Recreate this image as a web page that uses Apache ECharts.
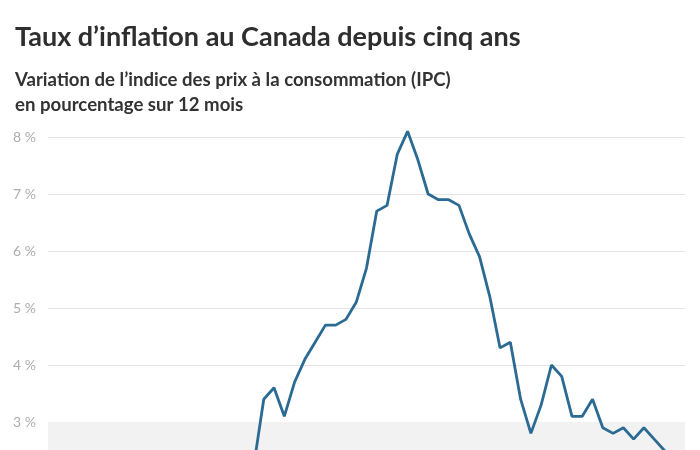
<!DOCTYPE html>
<html>
<head>
<meta charset="utf-8">
<script src="https://cdn.jsdelivr.net/npm/echarts@6/dist/echarts.min.js"></script>
<style>
html,body{margin:0;padding:0;background:#fff;overflow:hidden;width:700px;height:450px;}
#chart{width:700px;height:690px;}
</style>
</head>
<body>
<div id="chart"></div>
<script>
const months = [
  "2019-07","2019-08","2019-09","2019-10","2019-11","2019-12",
  "2020-01","2020-02","2020-03","2020-04","2020-05","2020-06","2020-07","2020-08","2020-09","2020-10","2020-11","2020-12",
  "2021-01","2021-02","2021-03","2021-04","2021-05","2021-06","2021-07","2021-08","2021-09","2021-10","2021-11","2021-12",
  "2022-01","2022-02","2022-03","2022-04","2022-05","2022-06","2022-07","2022-08","2022-09","2022-10","2022-11","2022-12",
  "2023-01","2023-02","2023-03","2023-04","2023-05","2023-06","2023-07","2023-08","2023-09","2023-10","2023-11","2023-12",
  "2024-01","2024-02","2024-03","2024-04","2024-05","2024-06","2024-07","2024-08","2024-09"
];
const inflation = [
  2.0,1.9,1.9,1.9,2.2,2.2,
  2.4,2.2,0.9,-0.2,-0.4,0.7,0.1,0.1,0.5,0.7,1.0,0.7,
  1.0,1.1,2.2,3.4,3.6,3.1,3.7,4.1,4.4,4.7,4.7,4.8,
  5.1,5.7,6.7,6.8,7.7,8.1,7.6,7.0,6.9,6.9,6.8,6.3,
  5.9,5.2,4.3,4.4,3.4,2.8,3.3,4.0,3.8,3.1,3.1,3.4,
  2.9,2.8,2.9,2.7,2.9,2.7,2.5,2.0,1.6
];
const targetBand = [1, 3];
const yMin = -1, yMax = 8, yStep = 1;
const titleText = "Taux d\u2019inflation au Canada depuis cinq ans";
const subText = "Variation de l\u2019indice des prix \u00e0 la consommation (IPC)\nen pourcentage sur 12 mois";

const chart = echarts.init(document.getElementById('chart'), null, {renderer:'canvas'});
chart.setOption({
  animation: false,
  backgroundColor: '#ffffff',
  title: {
    text: titleText,
    subtext: subText,
    left: 10,
    top: 19,
    itemGap: 16,
    textStyle: {fontFamily: 'Lato', fontWeight: 'bold', fontSize: 27, color: '#2e2e2e'},
    subtextStyle: {fontFamily: 'Lato', fontWeight: 'bold', fontSize: 18.6, color: '#333333', lineHeight: 25}
  },
  grid: {left: 48, right: 15, top: 137, bottom: 40, containLabel: false},
  xAxis: {
    type: 'category',
    data: months,
    boundaryGap: false,
    axisLine: {show: false},
    axisTick: {show: false},
    axisLabel: {show: false},
    splitLine: {show: false}
  },
  yAxis: {
    type: 'value',
    min: yMin, max: yMax, interval: yStep,
    axisLine: {show: false},
    axisTick: {show: false},
    axisLabel: {
      formatter: v => v + ' %',
      align: 'left',
      margin: 35,
      fontFamily: 'Lato',
      fontSize: 14,
      color: '#adadad'
    },
    splitLine: {lineStyle: {color: '#e5e5e5', width: 1}}
  },
  series: [{
    type: 'line',
    data: inflation,
    symbol: 'none',
    clip: false,
    lineStyle: {color: '#2a6a93', width: 2.8},
    markArea: {
      silent: true,
      itemStyle: {color: '#f2f2f2'},
      data: [[{yAxis: targetBand[0]}, {yAxis: targetBand[1]}]]
    },
    z: 3
  }]
});
</script>
</body>
</html>
